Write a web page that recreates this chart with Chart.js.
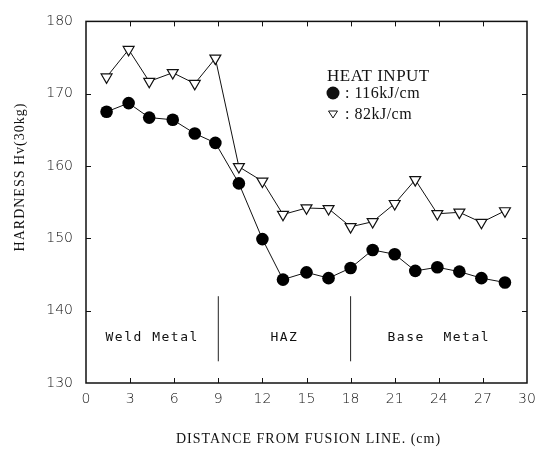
<!DOCTYPE html>
<html>
<head>
<meta charset="utf-8">
<script src="https://cdn.jsdelivr.net/npm/chart.js@4.4.1/dist/chart.umd.min.js"></script>
<style>
  html, body { margin: 0; padding: 0; background: #fff; }
  #wrap { width: 546px; height: 449px; }
</style>
</head>
<body>
<div id="wrap"><canvas id="hardnessChart" width="546" height="449"></canvas></div>
<script>
// Distance from fusion line (cm) - same stations for both heat inputs
const distance = [1.4, 2.9, 4.3, 5.9, 7.4, 8.8, 10.4, 12.0, 13.4, 15.0, 16.5, 18.0, 19.5, 21.0, 22.4, 23.9, 25.4, 26.9, 28.5];
const hardness116 = [167.5, 168.7, 166.7, 166.4, 164.5, 163.2, 157.6, 149.9, 144.3, 145.3, 144.5, 145.9, 148.4, 147.8, 145.5, 146.0, 145.4, 144.5, 143.9];
const hardness82 = [172.3, 176.1, 171.7, 172.9, 171.4, 174.9, 159.9, 157.9, 153.3, 154.2, 154.1, 151.6, 152.3, 154.8, 158.1, 153.4, 153.6, 152.2, 153.8];

const xTicks = [0, 3, 6, 9, 12, 15, 18, 21, 24, 27, 30];
const yTicks = [130, 140, 150, 160, 170, 180];

// zone boundaries (cm) and names
const zoneBounds = [9, 18];
const zoneNames = ['Weld Metal', 'HAZ', 'Base  Metal'];
const zoneLineRange = [133, 142];

const seriesNames = ['116kJ/cm', '82kJ/cm'];
const legendTitle = 'HEAT INPUT';
const xTitle = 'DISTANCE FROM FUSION LINE. (cm)';
const yTitle = 'HARDNESS Hv(30kg)';

const toPoints = (xs, ys) => xs.map((x, i) => ({ x: x, y: ys[i] }));

// frame, inward tick marks, titles, zone labels and legend
const decorations = {
    id: 'decorations',
    afterDraw(chart) {
        const { ctx, chartArea: a, scales: { x, y } } = chart;
        ctx.save();

        // frame
        ctx.strokeStyle = '#111';
        ctx.lineWidth = 1.5;
        ctx.strokeRect(a.left, a.top, a.right - a.left, a.bottom - a.top);

        // inward ticks
        ctx.lineWidth = 1;
        ctx.beginPath();
        xTicks.forEach(v => {
            if (v <= x.min || v >= x.max) return;
            const px = Math.round(x.getPixelForValue(v)) + 0.5;
            ctx.moveTo(px, a.bottom); ctx.lineTo(px, a.bottom - 5);
            ctx.moveTo(px, a.top); ctx.lineTo(px, a.top + 5);
        });
        yTicks.forEach(v => {
            if (v <= y.min || v >= y.max) return;
            const py = Math.round(y.getPixelForValue(v)) + 0.5;
            ctx.moveTo(a.left, py); ctx.lineTo(a.left + 5, py);
            ctx.moveTo(a.right, py); ctx.lineTo(a.right - 5, py);
        });
        ctx.stroke();

        ctx.fillStyle = '#111';
        ctx.textAlign = 'center';
        ctx.textBaseline = 'middle';

        // zone labels, centred in each zone
        const edges = [x.min, ...zoneBounds, x.max];
        ctx.font = '13px "DejaVu Sans Mono"';
        ctx.letterSpacing = '1.5px';
        zoneNames.forEach((name, i) => {
            const mid = (edges[i] + edges[i + 1]) / 2;
            ctx.fillText(name, x.getPixelForValue(mid), y.getPixelForValue(136.3));
        });

        // axis titles
        ctx.font = '14px "Liberation Serif"';
        ctx.letterSpacing = '1px';
        ctx.fillText(xTitle, (a.left + a.right) / 2 + 2, 439);
        ctx.save();
        ctx.translate(20, 177);
        ctx.rotate(-Math.PI / 2);
        ctx.fillText(yTitle, 0, 0);
        ctx.restore();

        // legend
        ctx.textAlign = 'left';
        ctx.font = '17px "Liberation Serif"';
        ctx.letterSpacing = '0.5px';
        ctx.fillText(legendTitle, 327, 77);
        ctx.font = '16px "Liberation Serif"';
        ctx.fillText(': ' + seriesNames[0], 345, 94);
        ctx.fillText(': ' + seriesNames[1], 345, 115);

        ctx.beginPath();
        ctx.arc(333, 93, 6.5, 0, Math.PI * 2);
        ctx.fill();

        ctx.beginPath();
        ctx.moveTo(328.5, 111);
        ctx.lineTo(337.5, 111);
        ctx.lineTo(333, 118);
        ctx.closePath();
        ctx.lineWidth = 1;
        ctx.stroke();

        ctx.restore();
    }
};

const zoneLines = zoneBounds.map(b => ({
    data: [{ x: b, y: zoneLineRange[0] }, { x: b, y: zoneLineRange[1] }],
    borderColor: '#222',
    borderWidth: 1,
    pointRadius: 0,
    showLine: true
}));

new Chart(document.getElementById('hardnessChart'), {
    type: 'scatter',
    data: {
        datasets: [
            ...zoneLines,
            {
                label: seriesNames[1],
                data: toPoints(distance, hardness82),
                showLine: true,
                borderColor: '#111',
                borderWidth: 1,
                pointStyle: 'triangle',
                rotation: 180,
                pointRadius: 6.3,
                pointBorderWidth: 1.2,
                pointBackgroundColor: '#fff',
                pointBorderColor: '#111'
            },
            {
                label: seriesNames[0],
                data: toPoints(distance, hardness116),
                showLine: true,
                borderColor: '#111',
                borderWidth: 1,
                pointStyle: 'circle',
                pointRadius: 6.3,
                pointBorderWidth: 0,
                pointBackgroundColor: '#000'
            }
        ]
    },
    options: {
        responsive: false,
        animation: false,
        layout: { padding: { top: 14, right: 19, left: 0, bottom: 0 } },
        plugins: {
            legend: { display: false },
            tooltip: { enabled: false }
        },
        scales: {
            x: {
                type: 'linear',
                min: 0,
                max: 30,
                afterFit: s => { s.height = 66; },
                afterBuildTicks: s => { s.ticks = xTicks.map(v => ({ value: v })); },
                grid: { display: false, drawTicks: false },
                border: { display: false },
                ticks: {
                    autoSkip: false,
                    maxRotation: 0,
                    padding: 8,
                    color: '#111',
                    font: { family: 'DejaVu Sans', size: 14, weight: '300' }
                }
            },
            y: {
                min: 130,
                max: 180,
                afterFit: s => { s.width = 86; },
                afterBuildTicks: s => { s.ticks = yTicks.map(v => ({ value: v })); },
                grid: { display: false, drawTicks: false },
                border: { display: false },
                ticks: {
                    padding: 13,
                    color: '#111',
                    font: { family: 'DejaVu Sans', size: 14, weight: '300' }
                }
            }
        }
    },
    plugins: [decorations]
});
</script>
</body>
</html>
